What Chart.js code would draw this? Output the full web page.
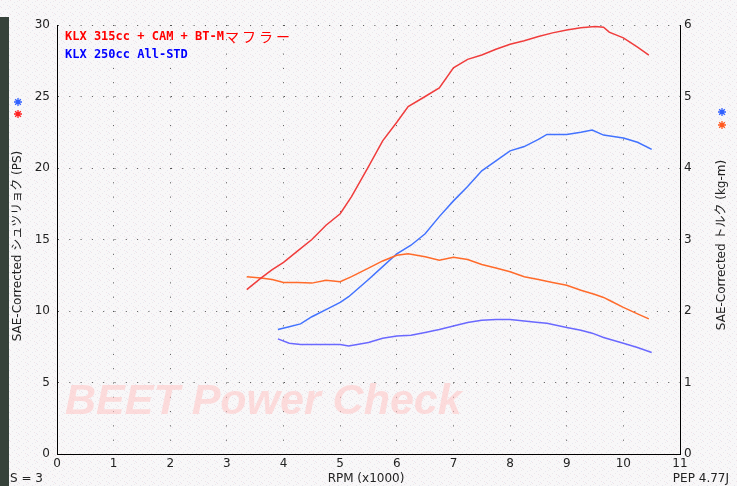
<!DOCTYPE html>
<html>
<head>
<meta charset="utf-8">
<script src="https://cdn.jsdelivr.net/npm/chart.js@4/dist/chart.umd.min.js"></script>
<style>
  html, body { margin: 0; padding: 0; background: #f6f5f6; }
  #wrap { width: 737px; height: 486px; position: relative; }
</style>
</head>
<body>
<div id="wrap"><canvas id="dyno" width="737" height="486"></canvas></div>
<script>
// RPM (x1000) for each run
const rpm315 = [3.35, 3.6, 3.8, 4.0, 4.25, 4.5, 4.75, 5.0, 5.2, 5.5, 5.75, 6.0, 6.2, 6.5, 6.75, 7.0,
    7.25, 7.5, 7.75, 8.0, 8.25, 8.5, 8.75, 9.0, 9.25, 9.5, 9.65, 9.75, 10.0, 10.25, 10.45];
const ps315 = [11.5, 12.3, 12.9, 13.4, 14.2, 15.0, 16.0, 16.8, 18.0, 20.1, 21.9, 23.2, 24.3, 25.0, 25.6, 27.0,
    27.6, 27.9, 28.3, 28.65, 28.9, 29.2, 29.45, 29.65, 29.8, 29.9, 29.85, 29.5, 29.1, 28.45, 27.9];
const tq315 = [2.48, 2.46, 2.44, 2.40, 2.40, 2.39, 2.43, 2.41, 2.48, 2.60, 2.70, 2.78, 2.80, 2.76, 2.71, 2.75,
    2.72, 2.65, 2.60, 2.55, 2.48, 2.44, 2.40, 2.36, 2.29, 2.23, 2.19, 2.15, 2.05, 1.96, 1.89];

const rpm250 = [3.9, 4.1, 4.3, 4.5, 4.75, 5.0, 5.15, 5.5, 5.75, 6.0, 6.25, 6.5, 6.75, 7.0, 7.25, 7.5,
    7.75, 8.0, 8.25, 8.5, 8.65, 9.0, 9.25, 9.45, 9.65, 10.0, 10.25, 10.5];
const ps250 = [8.7, 8.9, 9.1, 9.6, 10.1, 10.6, 11.0, 12.2, 13.1, 14.0, 14.6, 15.4, 16.6, 17.7, 18.7, 19.8,
    20.5, 21.2, 21.5, 22.0, 22.35, 22.35, 22.5, 22.65, 22.3, 22.1, 21.8, 21.3];
const tq250 = [1.61, 1.55, 1.53, 1.53, 1.53, 1.53, 1.51, 1.56, 1.62, 1.65, 1.66, 1.70, 1.74, 1.79, 1.84, 1.87,
    1.88, 1.88, 1.86, 1.84, 1.83, 1.77, 1.73, 1.69, 1.63, 1.55, 1.49, 1.42];

const legendLabels = ['KLX 315cc + CAM + BT-M', 'KLX 250cc All-STD'];

function pts(xs, ys) {
    return xs.map((x, i) => ({ x: x, y: ys[i] }));
}

// faint speckled paper like the dyno printout
function makePattern(ctx) {
    const c = document.createElement('canvas');
    c.width = 9; c.height = 7;
    const p = c.getContext('2d');
    p.fillStyle = '#f8f7f8';
    p.fillRect(0, 0, 9, 7);
    const specks = [[1, 0, '#efe2e8'], [5, 2, '#e6e7f0'], [7, 5, '#efe2e8'], [3, 4, '#e9e9e9'], [0, 6, '#e6e7f0'], [8, 1, '#eaeaea']];
    specks.forEach(s => { p.fillStyle = s[2]; p.fillRect(s[0], s[1], 1, 1); });
    return ctx.createPattern(c, 'repeat');
}

function star(ctx, x, y, color) {
    ctx.save();
    ctx.strokeStyle = color;
    ctx.lineWidth = 1.3;
    ctx.beginPath();
    for (let a = 0; a < 4; a++) {
        const t = a * Math.PI / 4;
        ctx.moveTo(x - 4 * Math.cos(t), y - 4 * Math.sin(t));
        ctx.lineTo(x + 4 * Math.cos(t), y + 4 * Math.sin(t));
    }
    ctx.stroke();
    ctx.restore();
}

const paperPlugin = {
    id: 'paper',
    beforeDraw(chart) {
        const ctx = chart.ctx;
        ctx.save();
        ctx.fillStyle = makePattern(ctx);
        ctx.fillRect(0, 0, chart.width, chart.height);
        // dark photo strip on the far left
        ctx.fillStyle = '#36423a';
        ctx.fillRect(0, 17, 9, chart.height - 17);
        ctx.restore();
    },
    beforeDatasetsDraw(chart) {
        const ctx = chart.ctx;
        ctx.save();
        ctx.font = 'italic bold 43px "Liberation Sans", Arial, sans-serif';
        ctx.fillStyle = 'rgba(255, 200, 200, 0.6)';
        ctx.textBaseline = 'alphabetic';
        ctx.fillText('BEET Power Check', 65, 414);
        ctx.restore();
    },
    afterDraw(chart) {
        const ctx = chart.ctx;
        ctx.save();

        // run labels
        ctx.textBaseline = 'middle';
        ctx.font = 'bold 12px "DejaVu Sans Mono", monospace';
        ctx.fillStyle = '#ff0000';
        ctx.fillText(legendLabels[0], 65, 37);
        let w = ctx.measureText(legendLabels[0]).width;
        ctx.font = '14px "Noto Sans CJK JP", sans-serif';
        ctx.letterSpacing = '3px';
        ctx.fillText('マフラー', 65 + w + 1, 37);
        ctx.letterSpacing = '0px';
        ctx.font = 'bold 12px "DejaVu Sans Mono", monospace';
        ctx.fillStyle = '#0000ff';
        ctx.fillText(legendLabels[1], 65, 55);

        // axis titles
        ctx.fillStyle = '#222';
        ctx.font = '12px "DejaVu Sans", "Noto Sans CJK JP", sans-serif';
        ctx.textAlign = 'center';
        ctx.save();
        ctx.translate(18, 246);
        ctx.rotate(-Math.PI / 2);
        ctx.fillText('SAE-Corrected シュツリョク (PS)', 0, 0);
        ctx.restore();
        ctx.save();
        ctx.translate(722, 245);
        ctx.rotate(-Math.PI / 2);
        ctx.fillText('SAE-Corrected トルク (kg-m)', 0, 0);
        ctx.restore();

        // bottom line texts
        ctx.font = '12px "DejaVu Sans", sans-serif';
        ctx.textAlign = 'left';
        ctx.fillText('S = 3', 10, 479);
        ctx.textAlign = 'center';
        ctx.fillText('RPM (x1000)', 366, 479);
        ctx.textAlign = 'right';
        ctx.fillText('PEP 4.77J', 729, 479);

        star(ctx, 18, 102, '#3060ff');
        star(ctx, 18, 114, '#ff2020');
        star(ctx, 722, 112, '#3060ff');
        star(ctx, 722, 125, '#ff5a20');
        ctx.restore();
    }
};

const tickFont = { family: '"DejaVu Sans", sans-serif', size: 12 };

new Chart(document.getElementById('dyno'), {
    type: 'line',
    data: {
        datasets: [
            { label: 'PS 315', data: pts(rpm315, ps315), yAxisID: 'y', borderColor: '#f03c3c' },
            { label: 'Torque 315', data: pts(rpm315, tq315), yAxisID: 'y1', borderColor: '#ff6a2a' },
            { label: 'PS 250', data: pts(rpm250, ps250), yAxisID: 'y', borderColor: '#4272ff' },
            { label: 'Torque 250', data: pts(rpm250, tq250), yAxisID: 'y1', borderColor: '#6a68ff' }
        ]
    },
    options: {
        responsive: false,
        animation: false,
        events: [],
        layout: { padding: { top: 25, left: 0, right: 0, bottom: 0 } },
        elements: {
            point: { radius: 0 },
            line: { borderWidth: 1.5, tension: 0, fill: false }
        },
        plugins: {
            legend: { display: false },
            tooltip: { enabled: false }
        },
        scales: {
            x: {
                type: 'linear',
                min: 0, max: 11,
                ticks: { stepSize: 1, color: '#222', font: tickFont, padding: 3 },
                grid: { color: '#555', drawTicks: false },
                border: { color: '#000', width: 1, dash: [1, 13.3] },
                afterFit(s) { s.height = 32; }
            },
            y: {
                position: 'left',
                min: 0, max: 30,
                ticks: { stepSize: 5, color: '#222', font: tickFont, padding: 7 },
                grid: { color: '#555', drawTicks: false },
                border: { color: '#000', width: 1, dash: [1, 10.3] },
                afterFit(s) { s.width = 57; }
            },
            y1: {
                position: 'right',
                min: 0, max: 6,
                ticks: { stepSize: 1, color: '#222', font: tickFont, padding: 4 },
                grid: { display: false, drawTicks: false },
                border: { color: '#000', width: 1 },
                afterFit(s) { s.width = 57; }
            }
        }
    },
    plugins: [paperPlugin]
});
</script>
</body>
</html>
